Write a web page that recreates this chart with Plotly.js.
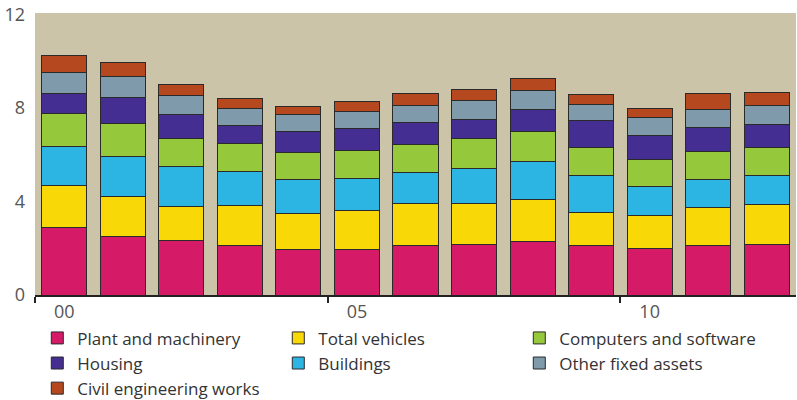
<!DOCTYPE html>
<html>
<head>
<meta charset="utf-8">
<script src="https://cdn.plot.ly/plotly-3.0.1.min.js"></script>
<style>html,body{margin:0;padding:0;background:#fff;}#chart{width:797px;height:400px;}</style>
</head>
<body>
<div id="chart"></div>
<script>
var years = [2000, 2001, 2002, 2003, 2004, 2005, 2006, 2007, 2008, 2009, 2010, 2011, 2012];
var tickVals = [2000, 2005, 2010];
var tickText = ["00", "05", "10"];

var plantMachinery = [2.90, 2.50, 2.33, 2.14, 1.93, 1.96, 2.10, 2.16, 2.30, 2.13, 1.97, 2.10, 2.16];
var totalVehicles  = [1.79, 1.71, 1.47, 1.69, 1.57, 1.65, 1.80, 1.74, 1.77, 1.41, 1.43, 1.64, 1.71];
var buildings      = [1.67, 1.71, 1.70, 1.46, 1.44, 1.39, 1.34, 1.51, 1.64, 1.57, 1.24, 1.20, 1.24];
var computers      = [1.43, 1.43, 1.21, 1.18, 1.16, 1.19, 1.20, 1.29, 1.27, 1.21, 1.17, 1.19, 1.20];
var housing        = [0.83, 1.09, 1.03, 0.79, 0.90, 0.94, 0.93, 0.81, 0.96, 1.17, 1.01, 1.03, 1.00];
var otherAssets    = [0.90, 0.90, 0.79, 0.71, 0.71, 0.73, 0.76, 0.81, 0.81, 0.66, 0.77, 0.79, 0.80];
var civilWorks     = [0.74, 0.63, 0.47, 0.46, 0.36, 0.43, 0.48, 0.47, 0.51, 0.43, 0.41, 0.67, 0.56];

var series = [
  {name: "Plant and machinery", y: plantMachinery, color: "#D51A68", rank: 1},
  {name: "Total vehicles", y: totalVehicles, color: "#F9D808", rank: 2},
  {name: "Buildings", y: buildings, color: "#2CB4E3", rank: 5},
  {name: "Computers and software", y: computers, color: "#96C83C", rank: 3},
  {name: "Housing", y: housing, color: "#452E91", rank: 4},
  {name: "Other fixed assets", y: otherAssets, color: "#7E9AAB", rank: 6},
  {name: "Civil engineering works", y: civilWorks, color: "#B5481E", rank: 7}
];

var traces = series.map(function (s) {
  return {
    type: "bar",
    x: years,
    y: s.y,
    name: s.name,
    legendrank: s.rank,
    marker: {color: s.color, line: {color: "#2a2a2a", width: 1}},
    hoverinfo: "name+y"
  };
});

var layout = {
  width: 797,
  height: 400,
  barmode: "stack",
  bargap: 0.23,
  paper_bgcolor: "#ffffff",
  plot_bgcolor: "#CCC4A9",
  margin: {l: 35, r: 1, t: 13, b: 105, autoexpand: false},
  font: {family: "Open Sans, sans-serif", size: 18, color: "#333333"},
  xaxis: {
    range: [1999.5, 2012.5],
    tickmode: "array",
    tickvals: tickVals,
    ticktext: tickText,
    ticks: "",
    ticklabelstandoff: 0,
    showgrid: false,
    zeroline: false,
    showline: true,
    linecolor: "#222222",
    linewidth: 1.5,
    tickfont: {size: 18, color: "#555555"},
    minor: {tickmode: "array", tickvals: [1999.5, 2004.5, 2009.5], ticks: "outside", ticklen: 6, tickwidth: 2, tickcolor: "#222222", showgrid: false},
    fixedrange: true
  },
  yaxis: {
    range: [0, 12.07],
    tickmode: "array",
    tickvals: [0, 4, 8, 12],
    ticktext: ["0", "4", "8", "12"],
    ticks: "",
    ticklabelstandoff: 9,
    showgrid: false,
    zeroline: false,
    showline: false,
    tickfont: {size: 18, color: "#555555"},
    fixedrange: true
  },
  showlegend: true,
  legend: {
    orientation: "h",
    x: 0.003,
    y: -0.09,
    xanchor: "left",
    yanchor: "top",
    entrywidth: 196,
    entrywidthmode: "pixels",
    traceorder: "normal",
    font: {size: 17, color: "#333333"},
    bgcolor: "rgba(0,0,0,0)",
    tracegroupgap: 0
  }
};

Plotly.newPlot("chart", traces, layout, {displayModeBar: false, staticPlot: true});
</script>
</body>
</html>
